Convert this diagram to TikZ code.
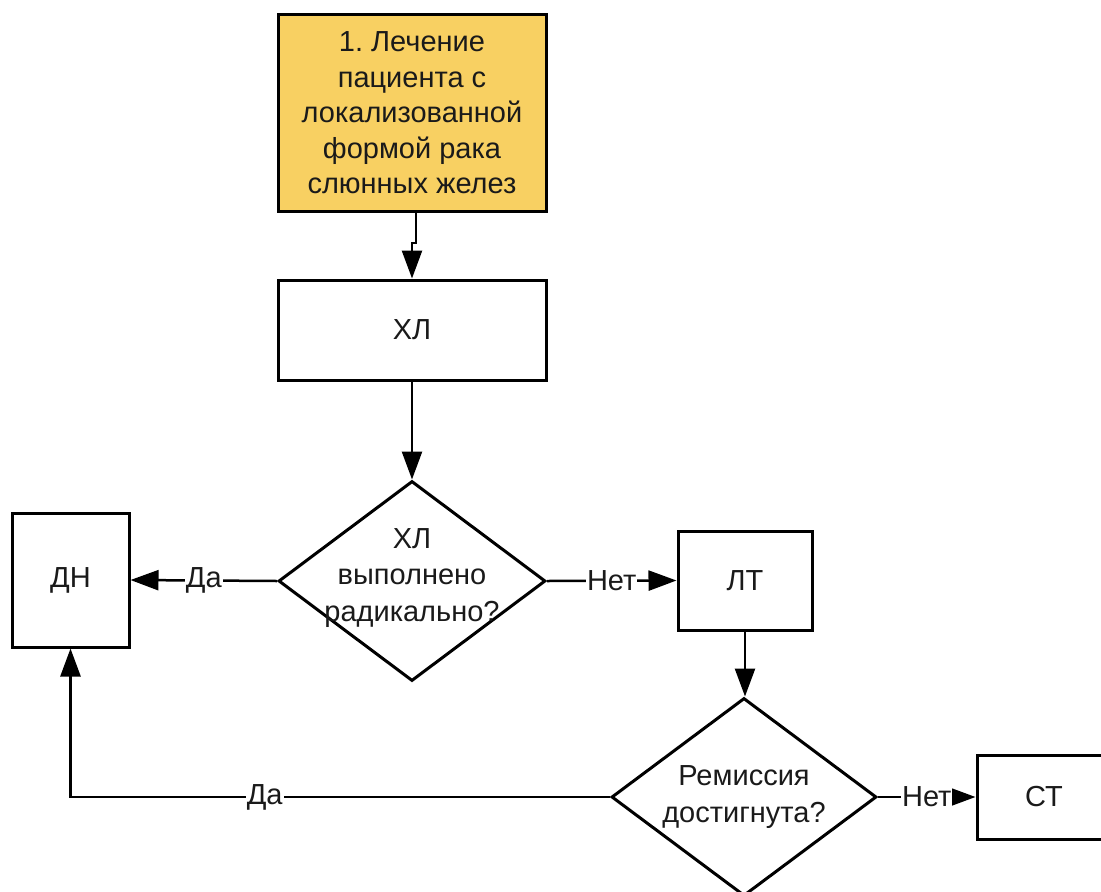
\documentclass[tikz,border=0pt]{standalone}
\usepackage{fontspec}
\setmainfont{Liberation Sans}
\usetikzlibrary{shapes.geometric,arrows.meta}
\definecolor{topyellow}{HTML}{F8D062}
\definecolor{ink}{HTML}{1A1A1A}
\frenchspacing
\begin{document}
\begin{tikzpicture}[x=1pt,y=-1pt,
  box/.style={draw=black, text=ink, line width=3pt, inner sep=0pt, align=center, font=\fontsize{29}{35.5}\selectfont},
  dia/.style={draw, diamond, line width=3pt, inner sep=0pt},
  txt/.style={inner sep=0pt, text=ink, align=center, font=\fontsize{29}{36.5}\selectfont},
  arr/.style={line width=2.5pt, -{Triangle[length=28pt,width=20pt]}},
  lbl/.style={fill=white, text=ink, inner sep=1pt, font=\fontsize{29}{35}\selectfont}]
\clip (0,0) rectangle (1101,892);
\fill[white] (0,0) rectangle (1101,892);
% boxes
\node[box, fill=topyellow, minimum width=268pt, minimum height=197pt] (start) at (412,113)
  {1.\ Лечение\\пациента с\\локализованной\\формой рака\\слюнных желез};
\node[box, minimum width=268pt, minimum height=100pt] (hl) at (412,330) {ХЛ};
\node[box, minimum width=117pt, minimum height=134pt] (dn) at (70.5,580) {ДН};
\node[box, minimum width=134pt, minimum height=99pt] (lt) at (745,580.5) {ЛТ};
\node[box, minimum width=134pt, minimum height=84pt] (st) at (1044,797) {СТ};
% diamonds
\node[dia, minimum width=267pt, minimum height=200pt] (d1) at (412,581) {};
\node[txt] (d1t) at (412,578) {ХЛ\\выполнено\\радикально?};
\node[dia, minimum width=265pt, minimum height=198pt] (d2) at (744,797) {};
\node[txt] (d2t) at (744,797) {Ремиссия\\достигнута?};
% connectors
\coordinate (j1) at (416,243);
\coordinate (j2) at (412,247);
\coordinate (corner) at (70.5,797);
\draw[line width=2.5pt] (start.south -| j1) -- (j1) -- (j1 -| j2) -- (j2);
\draw[arr] (j2) -- (hl.north);
\draw[arr] (hl.south) -- (d1.north);
\draw[arr] (d1.west) -- node[lbl] {Да} (dn.east);
\draw[arr] (d1.east) -- node[lbl] {Нет} (lt.west);
\draw[arr] (lt.south) -- (lt.south |- d2.north);
\draw[arr] (d2.west) -- node[lbl, pos=0.64] {Да} (corner) -- (dn.south);
\draw[arr] (d2.east) -- node[lbl] {Нет} (st.west);
\end{tikzpicture}
\end{document}
